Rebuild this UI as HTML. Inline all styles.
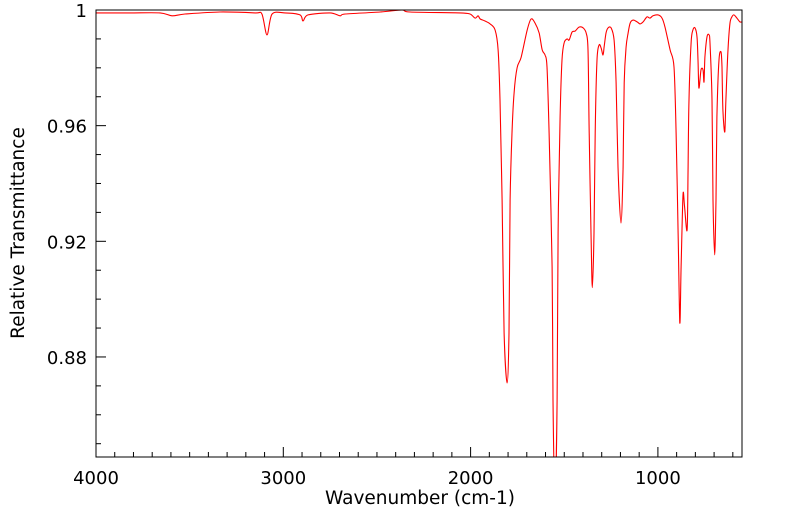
<!DOCTYPE html>
<html><head><meta charset="utf-8"><style>
html,body{margin:0;padding:0;background:#fff;}
svg{display:block;font-family:"DejaVu Sans","Liberation Sans",sans-serif;}
</style></head><body>
<svg id="chart" width="799" height="516">
<defs><clipPath id="clip"><rect x="96" y="10" width="646" height="447"/></clipPath></defs>
<g id="axes"></g>
<path id="line" clip-path="url(#clip)" fill="none" stroke="#ff0000" stroke-width="1.1" stroke-linejoin="round"/>
<rect x="96" y="10" width="646" height="447" fill="none" stroke="#000" stroke-width="1"/>
<text x="420" y="504" text-anchor="middle" font-size="18.5">Wavenumber (cm-1)</text>
<text transform="translate(24,233) rotate(-90)" text-anchor="middle" font-size="18.5">Relative Transmittance</text>
</svg>
<script>
const wavenumbers=[4000,3818,3658,3594,3525,3338,3151,3114,3087,3060,2991,2911,2895,2868,2750,2697,2670,2483,2366,2323,2056,2003,1976,1960,1949,1923,1896,1869,1853,1843,1832,1821,1805,1795,1789,1779,1768,1752,1730,1698,1677,1656,1634,1618,1602,1592,1581,1565,1560,1550,1538,1533,1522,1512,1501,1485,1474,1458,1442,1421,1399,1383,1373,1367,1357,1350,1341,1335,1325,1314,1303,1293,1287,1277,1266,1250,1234,1223,1213,1197,1186,1180,1170,1159,1148,1132,1111,1095,1079,1058,1042,1026,999,978,962,935,914,903,892,883,876,866,858,844,839,834,823,813,802,791,786,781,770,759,754,749,738,727,722,711,706,697,690,685,674,663,658,653,643,637,626,615,605,594,578,562,551];
const transmittance=[0.999,0.999,0.999,0.998,0.9986,0.9993,0.999,0.9986,0.9914,0.9986,0.999,0.9983,0.9962,0.9983,0.999,0.998,0.9986,0.9993,1.0,0.9993,0.999,0.9986,0.9972,0.998,0.9969,0.9962,0.9952,0.9931,0.9862,0.9689,0.9343,0.8883,0.871,0.8883,0.9343,0.9575,0.9713,0.98,0.9837,0.9931,0.9969,0.9955,0.992,0.9862,0.9844,0.9803,0.9575,0.9111,0.8651,0.83,0.8651,0.9229,0.963,0.9827,0.9886,0.99,0.9896,0.9924,0.9927,0.9941,0.9938,0.992,0.9862,0.9575,0.9229,0.904,0.9229,0.9575,0.9827,0.9879,0.9869,0.9844,0.9872,0.992,0.9938,0.9938,0.9896,0.9748,0.9457,0.9263,0.9457,0.9748,0.9872,0.992,0.9955,0.9965,0.9959,0.9952,0.9959,0.9976,0.9972,0.998,0.9983,0.9972,0.9941,0.9862,0.9803,0.9575,0.9229,0.8918,0.9111,0.936,0.9322,0.9239,0.9457,0.9689,0.9886,0.9931,0.9938,0.9907,0.9827,0.973,0.9793,0.9793,0.9751,0.9837,0.9907,0.9914,0.9886,0.9689,0.9343,0.9153,0.9343,0.963,0.9827,0.9855,0.9803,0.9654,0.9578,0.9689,0.9862,0.9955,0.9976,0.9983,0.9972,0.9959,0.9959];
const xTicks=[4000,3000,2000,1000];
const xTickLabels=["4000","3000","2000","1000"];
const yTicks=[1,0.96,0.92,0.88];
const yTickLabels=["1","0.96","0.92","0.88"];
const xDomain=[4000,551], yDomain=[0.8454,1.0];
const L=96,R=742,T=10,B=457;
function sx(v){return L+(v-xDomain[0])/(xDomain[1]-xDomain[0])*(R-L);}
function sy(v){return B-(v-yDomain[0])/(yDomain[1]-yDomain[0])*(B-T);}
const NS="http://www.w3.org/2000/svg";
const axes=document.getElementById('axes');
function ln(x1,y1,x2,y2,name){const l=document.createElementNS(NS,'line');l.setAttribute('x1',x1);l.setAttribute('y1',y1);l.setAttribute('x2',x2);l.setAttribute('y2',y2);l.setAttribute('stroke','#000');l.setAttribute('stroke-width','1');


axes.appendChild(l);}
function tx(x,y,s,anchor,name){const t=document.createElementNS(NS,'text');t.setAttribute('x',x);t.setAttribute('y',y);t.setAttribute('text-anchor',anchor);t.setAttribute('font-size','18');t.textContent=s;


axes.appendChild(t);}
for(let w=4000;w>=600;w-=100){const x=sx(w);const major=w%1000===0;ln(x,B,x,B-(major?10:5),major?'x-major-tick':'x-minor-tick');}
for(let k=0;k<16;k++){const v=1-k*0.01;if(v<yDomain[0])break;const y=sy(v);const major=yTicks.some(t=>Math.abs(t-v)<1e-6);ln(L,y,L+(major?10:5),y,major?'y-major-tick':'y-minor-tick');}
xTicks.forEach((v,i)=>tx(sx(v),484,xTickLabels[i],'middle','x-tick-label'));
yTicks.forEach((v,i)=>tx(87,sy(v)+7,yTickLabels[i],'end','y-tick-label'));
const pts=wavenumbers.map((w,i)=>[sx(w),sy(transmittance[i])]);
let d='M'+pts[0][0].toFixed(1)+','+pts[0][1].toFixed(1);
for(let i=0;i<pts.length-1;i++){const p0=pts[Math.max(0,i-1)],p1=pts[i],p2=pts[i+1],p3=pts[Math.min(pts.length-1,i+2)];const t=0.15;
d+='C'+(p1[0]+(p2[0]-p0[0])*t).toFixed(1)+','+(p1[1]+(p2[1]-p0[1])*t).toFixed(1)+' '+(p2[0]-(p3[0]-p1[0])*t).toFixed(1)+','+(p2[1]-(p3[1]-p1[1])*t).toFixed(1)+' '+p2[0].toFixed(1)+','+p2[1].toFixed(1);}
document.getElementById('line').setAttribute('d',d);
</script>
</body></html>
